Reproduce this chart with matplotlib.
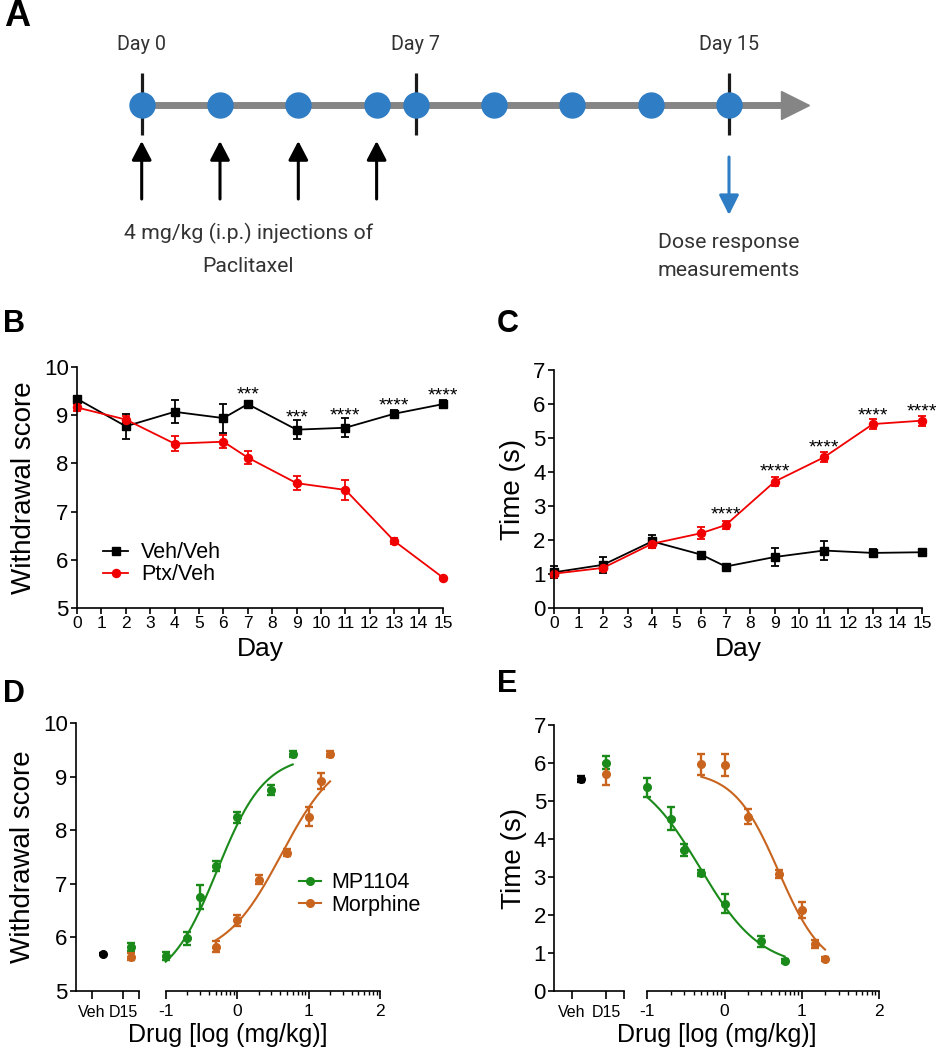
import numpy as np
import matplotlib.pyplot as plt
from matplotlib.lines import Line2D

plt.rcParams['font.family'] = ['Liberation Sans', 'DejaVu Sans']
plt.rcParams['axes.unicode_minus'] = False

# ---------------- data ----------------
# panel A: dosing schedule (days)
timeline_days = [0, 2, 4, 6, 7, 9, 11, 13, 15]
injection_days = [0, 2, 4, 6]
marked_days = [0, 7, 15]
measure_day = 15

# panels B/C: time course
days = [0, 2, 4, 6, 7, 9, 11, 13, 15]
b_veh = [9.34, 8.77, 9.07, 8.94, 9.23, 8.70, 8.74, 9.03, 9.23]
b_veh_err = [0.05, 0.26, 0.24, 0.30, 0.05, 0.20, 0.20, 0.08, 0.09]
b_ptx = [9.16, 8.91, 8.41, 8.45, 8.12, 7.59, 7.45, 6.39, 5.63]
b_ptx_err = [0.07, 0.07, 0.16, 0.13, 0.13, 0.14, 0.21, 0.07, 0.02]
b_star_days = [7, 9, 11, 13, 15]
b_star_text = ['***', '***', '****', '****', '****']
b_star_y = [9.55, 9.09, 9.12, 9.32, 9.54]

c_veh = [1.05, 1.27, 1.96, 1.57, 1.22, 1.50, 1.69, 1.62, 1.64]
c_veh_err = [0.18, 0.23, 0.20, 0.03, 0.04, 0.27, 0.27, 0.12, 0.07]
c_ptx = [1.01, 1.18, 1.89, 2.20, 2.44, 3.72, 4.43, 5.41, 5.51]
c_ptx_err = [0.10, 0.10, 0.12, 0.18, 0.12, 0.12, 0.15, 0.15, 0.15]
c_star_days = [7, 9, 11, 13, 15]
c_star_text = ['****'] * 5
c_star_y = [2.94, 4.21, 4.90, 5.83, 5.95]

# panels D/E: dose response (mg/kg)
mp_dose = [0.1, 0.2, 0.3, 0.5, 1, 3, 6]
mor_dose = [0.5, 1, 2, 5, 10, 15, 20]

d_mp = [5.65, 5.98, 6.75, 7.33, 8.24, 8.75, 9.42]
d_mp_err = [0.07, 0.12, 0.22, 0.09, 0.10, 0.10, 0.06]
d_mor = [5.83, 6.32, 7.08, 7.58, 8.25, 8.91, 9.42]
d_mor_err = [0.10, 0.10, 0.08, 0.07, 0.18, 0.15, 0.06]
d_veh, d_veh_err = 5.69, 0.02
d_d15_mp, d_d15_mp_err = 5.82, 0.08
d_d15_mor, d_d15_mor_err = 5.64, 0.06
# fitted curves: (low-dose level, high-dose level, logEC50, hill)
d_mp_fit = (5.1, 9.4, -0.28, 1.3)
d_mor_fit = (5.6, 9.5, 0.62, 1.1)

e_mp = [5.36, 4.53, 3.71, 3.10, 2.29, 1.31, 0.79]
e_mp_err = [0.25, 0.30, 0.17, 0.08, 0.25, 0.15, 0.06]
e_mor = [5.97, 5.95, 4.59, 3.08, 2.13, 1.23, 0.85]
e_mor_err = [0.28, 0.28, 0.20, 0.10, 0.20, 0.10, 0.05]
e_veh, e_veh_err = 5.57, 0.08
e_d15_mp, e_d15_mp_err = 6.01, 0.18
e_d15_mor, e_d15_mor_err = 5.71, 0.30
e_mp_fit = (5.9, 0.6, -0.32, 1.1)
e_mor_fit = (5.8, 0.5, 0.70, 1.5)

RED = '#f00000'
GREEN = '#1a8a1a'
ORANGE = '#c8641e'
BLUE = '#2f7dc5'
GRAY = '#858585'
TXT = '#333333'
SCHEME_FONT = ['Roboto', 'DejaVu Sans']

W, H = 943, 1050
fig = plt.figure(figsize=(W / 100, H / 100), dpi=100)


def px_axes(left, top, right, bottom):
    return fig.add_axes([left / W, 1 - bottom / H, (right - left) / W, (bottom - top) / H])


def no_clip(eb):
    for art in [eb.lines[0], *eb.lines[1], *eb.lines[2]]:
        if art is not None:
            art.set_clip_on(False)


def style(ax):
    for s in ['top', 'right']:
        ax.spines[s].set_visible(False)
    for s in ['left', 'bottom']:
        ax.spines[s].set_linewidth(1.2)
    ax.tick_params(direction='out', length=4, width=1.2, pad=2)


def sigmoid(x, p):
    low, high, ec50, hill = p
    return low + (high - low) / (1 + 10 ** ((ec50 - x) * hill))


# ---------------- A ----------------
px_per_day = (729 - 141.7) / 15
axA = fig.add_axes([0, 1 - 300 / H, 1, 300 / H])
axA.set_xlim(-141.7 / px_per_day, (W - 141.7) / px_per_day)
axA.set_ylim(300, 0)
axA.axis('off')
line_y = 105
axA.plot([-0.15, 16.5], [line_y, line_y], color=GRAY, lw=5, solid_capstyle='butt', zorder=1)
axA.plot([16.68], [line_y], marker='>', ms=19.5, color=GRAY, zorder=1)
axA.vlines(marked_days, 73, 135, color='#1a1a1a', lw=2.3, zorder=2)
axA.plot(timeline_days, [line_y] * len(timeline_days), 'o', ms=18, color=BLUE, zorder=3)
for d in marked_days:
    axA.text(d, 45, 'Day %d' % d, ha='center', va='center', fontsize=14.2,
             color=TXT, family=SCHEME_FONT)
for d in injection_days:
    axA.annotate('', xy=(d, 141), xytext=(d, 199),
                 arrowprops=dict(arrowstyle='-|>,head_length=1.15,head_width=0.6',
                                 color='black', lw=2.2, shrinkA=0, shrinkB=0,
                                 mutation_scale=10))
axA.annotate('', xy=(measure_day, 215), xytext=(measure_day, 157),
             arrowprops=dict(arrowstyle='-|>,head_length=1.2,head_width=0.6',
                             color=BLUE, lw=2.2, shrinkA=0, shrinkB=0,
                             mutation_scale=10))
axA.text(2.72, 233, '4 mg/kg (i.p.) injections of', ha='center', va='center',
         fontsize=15.3, color=TXT, family=SCHEME_FONT)
axA.text(2.72, 267, 'Paclitaxel', ha='center', va='center',
         fontsize=15.3, color=TXT, family=SCHEME_FONT)
axA.text(measure_day, 242, 'Dose response', ha='center', va='center',
         fontsize=15.3, color=TXT, family=SCHEME_FONT)
axA.text(measure_day, 270, 'measurements', ha='center', va='center',
         fontsize=15.3, color=TXT, family=SCHEME_FONT)

# ---------------- B / C ----------------
def time_course(ax, veh, veh_err, ptx, ptx_err, star_days, star_text, star_y, ylim, ylabel):
    eb = ax.errorbar(days, veh, yerr=veh_err, color='black', marker='s', ms=6,
                     lw=1.3, elinewidth=1.3, capsize=3, capthick=1.3)
    no_clip(eb)
    eb = ax.errorbar(days, ptx, yerr=ptx_err, color=RED, marker='o', ms=5.8,
                     lw=1.3, elinewidth=1.3, capsize=3, capthick=1.3)
    no_clip(eb)
    for d, s, y in zip(star_days, star_text, star_y):
        ax.annotate(s, (d, y), xytext=(0, -8), textcoords='offset points',
                    ha='center', va='baseline', fontsize=14)
    ax.set_xlim(0, 15)
    ax.set_ylim(*ylim)
    ax.set_xticks(range(16))
    ax.set_yticks(range(ylim[0], ylim[1] + 1))
    style(ax)
    ax.tick_params(axis='x', labelsize=12.5)
    ax.tick_params(axis='y', labelsize=16)
    ax.set_xlabel('Day', fontsize=19, labelpad=4)
    ax.set_ylabel(ylabel, fontsize=20, labelpad=5)


axB = px_axes(77, 367, 443, 608)
time_course(axB, b_veh, b_veh_err, b_ptx, b_ptx_err, b_star_days, b_star_text,
            b_star_y, (5, 10), 'Withdrawal score')
handles = [Line2D([], [], color='black', marker='s', ms=6, lw=1.3),
           Line2D([], [], color=RED, marker='o', ms=5.8, lw=1.3)]
axB.legend(handles, ['Veh/Veh', 'Ptx/Veh'], loc='center left',
           bbox_to_anchor=(0.07, 0.183), frameon=False, fontsize=15.5,
           handlelength=1.2, handletextpad=0.6, labelspacing=0.05,
           borderaxespad=0, borderpad=0)

axC = px_axes(554, 370, 922, 608)
time_course(axC, c_veh, c_veh_err, c_ptx, c_ptx_err, c_star_days, c_star_text,
            c_star_y, (0, 7), 'Time (s)')

# ---------------- D / E ----------------
minor_ticks = [e + np.log10(k) for e in (-1, 0, 1) for k in range(2, 10)]


def dose_panel(left_box, right_box, ylim, ylabel, veh, veh_err, d15_mp, d15_mp_err,
               d15_mor, d15_mor_err, mp, mp_err, mor, mor_err, mp_fit, mor_fit,
               veh_x, d15_x):
    axl = px_axes(*left_box)
    axr = px_axes(*right_box)
    kw = dict(ms=5.5, lw=0, elinewidth=1.7, capsize=3, capthick=1.7, marker='o')
    no_clip(axl.errorbar([veh_x], [veh], yerr=[veh_err], color='black', **kw))
    no_clip(axl.errorbar([d15_x], [d15_mp], yerr=[d15_mp_err], color=GREEN, **kw))
    no_clip(axl.errorbar([d15_x], [d15_mor], yerr=[d15_mor_err], color=ORANGE, **kw))
    axl.set_xlim(0, 3)
    axl.set_ylim(*ylim)
    axl.set_xticks([0.75, 2.25, 3.0])
    axl.set_xticklabels(['Veh', 'D15', ''])
    axl.set_yticks(range(ylim[0], ylim[1] + 1))
    style(axl)
    axl.tick_params(axis='x', labelsize=11.5, length=6, pad=4)
    axl.tick_params(axis='y', labelsize=16)
    axl.set_ylabel(ylabel, fontsize=20, labelpad=5)

    for dose, val, err, fit, c in [(mp_dose, mp, mp_err, mp_fit, GREEN),
                                   (mor_dose, mor, mor_err, mor_fit, ORANGE)]:
        lx = np.log10(dose)
        xs = np.linspace(lx[0], lx[-1], 200)
        axr.plot(xs, sigmoid(xs, fit), color=c, lw=1.5, clip_on=False)
        no_clip(axr.errorbar(lx, val, yerr=err, color=c, **kw))
    axr.set_xlim(-1, 2)
    axr.set_ylim(*ylim)
    for s in ['top', 'right', 'left']:
        axr.spines[s].set_visible(False)
    axr.spines['bottom'].set_linewidth(1.2)
    axr.set_yticks([])
    axr.set_xticks([-1, 0, 1, 2])
    axr.set_xticklabels(['-1', '0', '1', '2'])
    axr.set_xticks(minor_ticks, minor=True)
    axr.tick_params(axis='x', which='major', direction='out', length=6, width=1.2,
                    labelsize=12.5, pad=3)
    axr.tick_params(axis='x', which='minor', direction='out', length=3, width=1.0)
    axr.patch.set_alpha(0)
    fig.text((left_box[0] + right_box[2]) / 2 / W, 1 - (right_box[3] + 44) / H,
             'Drug [log (mg/kg)]', ha='center', va='center', fontsize=18)
    return axl, axr


dl, dr = dose_panel((76, 723, 139, 991), (165.7, 723, 380, 991), (5, 10), 'Withdrawal score',
                    d_veh, d_veh_err, d_d15_mp, d_d15_mp_err, d_d15_mor, d_d15_mor_err,
                    d_mp, d_mp_err, d_mor, d_mor_err, d_mp_fit, d_mor_fit, 1.3, 2.6)
handles = [Line2D([], [], color=GREEN, marker='o', ms=5.5, lw=1.5),
           Line2D([], [], color=ORANGE, marker='o', ms=5.5, lw=1.5)]
dr.legend(handles, ['MP1104', 'Morphine'], loc='center left',
          bbox_to_anchor=((299 - 165.7) / 214.3, (991 - 894) / 268), frameon=False,
          fontsize=15.5, handlelength=1.0, handletextpad=0.5, labelspacing=0.05,
          borderaxespad=0, borderpad=0)

el, er = dose_panel((554.3, 725, 623.7, 991), (647.3, 725, 879, 991), (0, 7), 'Time (s)',
                    e_veh, e_veh_err, e_d15_mp, e_d15_mp_err, e_d15_mor, e_d15_mor_err,
                    e_mp, e_mp_err, e_mor, e_mor_err, e_mp_fit, e_mor_fit, 1.15, 2.25)

# panel letters
for lab, x, y, fs in [('A', 4, 16, 26), ('B', 3, 324, 22), ('C', 497, 324, 22),
                      ('D', 3, 694, 22), ('E', 497, 684, 22)]:
    fig.text(x / W, 1 - y / H, lab, fontsize=fs, fontweight='bold', ha='left', va='center')

fig.savefig('out.png', dpi=100)
